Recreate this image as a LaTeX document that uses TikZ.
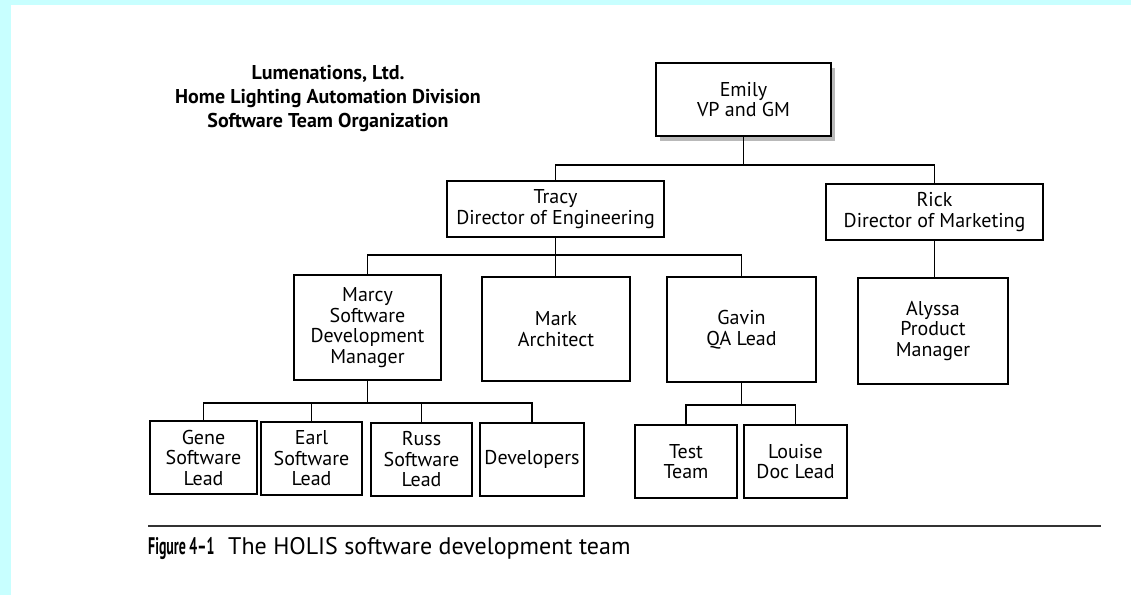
\documentclass[tikz,border=0pt]{standalone}
\usepackage{fontspec}
\setmainfont{PT Sans}
\usetikzlibrary{shadows}
\definecolor{bgcyan}{RGB}{200,255,255}
\tikzset{
  staff/.style={draw, line width=1.3pt, align=center, inner sep=0pt, font=\fontsize{20}{20.5}\selectfont},
  boss/.style={staff, line width=2.6pt},
  link/.style={line width=1.3pt}
}
\begin{document}
\begin{tikzpicture}[x=1pt,y=-1pt]
\useasboundingbox (0,0) rectangle (1131,595);
\fill[bgcyan] (0,0) rectangle (1131,595);
\fill[white] (11,5) rectangle (1131,595);

\node[align=center, font=\bfseries\fontsize{20}{24}\selectfont] (title) at (328,99) {Lumenations, Ltd.\\Home Lighting Automation Division\\Software Team Organization};

\node[boss, minimum width=175, minimum height=73, fill=white,
  drop shadow={shadow xshift=4pt, shadow yshift=-5pt, fill=gray!55, opacity=1}] (emily) at (743.5,99.5) {Emily\\VP and GM};
\node[boss, minimum width=217, minimum height=56] (tracy) at (555.5,209) {Tracy\\Director of Engineering};
\node[boss, minimum width=217, minimum height=56] (rick) at (934.5,212) {Rick\\Director of Marketing};

\node[boss, minimum width=147, minimum height=105] (marcy) at (367.5,327.5) {Marcy\\Software\\Development\\Manager};
\node[staff, minimum width=148, minimum height=104] (mark) at (556,329) {Mark\\Architect};
\node[staff, minimum width=149, minimum height=105] (gavin) at (741.5,329.5) {Gavin\\QA Lead};
\node[boss, minimum width=150, minimum height=106] (alyssa) at (933,331) {Alyssa\\Product\\Manager};

\node[staff, minimum width=107, minimum height=73] (gene) at (203.5,457.5) {Gene\\Software\\Lead};
\node[staff, minimum width=101, minimum height=73] (earl) at (311.5,458.5) {Earl\\Software\\Lead};
\node[staff, minimum width=101, minimum height=73] (russ) at (421.5,459.5) {Russ\\Software\\Lead};
\node[staff, minimum width=104, minimum height=73] (devs) at (532,459.5) {Developers};
\node[staff, minimum width=102, minimum height=73] (test) at (686,461.5) {Test\\Team};
\node[staff, minimum width=103, minimum height=73] (louise) at (795.5,461.5) {Louise\\Doc Lead};

% connectors
\coordinate (busA) at (743.5,165);
\coordinate (busB) at (555.5,255);
\coordinate (busC) at (367.5,403);
\coordinate (busD) at (741.5,405);
\draw[link] (emily.south) -- (busA);
\draw[link] (tracy.north) |- (busA) -| (rick.north);
\draw[link] (tracy.south) -- (tracy.south |- mark.north);
\draw[link] (marcy.north) |- (busB) -| (gavin.north);
\draw[link] (rick.south) -- (rick.south |- alyssa.north);
\draw[link] (marcy.south) -- (busC);
\draw[link] (gene.north) |- (busC) -| (devs.north);
\draw[link] (earl.north) -- (earl.north |- busC);
\draw[link] (russ.north) -- (russ.north |- busC);
\draw[link] (gavin.south) -- (busD);
\draw[link] (test.north) |- (busD) -| (louise.north);

% caption
\coordinate (ruleL) at (148,526);
\coordinate (ruleR) at (1101,526);
\draw[line width=2pt, black!80] (ruleL) -- (ruleR);
\node[anchor=base west, font=\bfseries\fontsize{24}{26}\selectfont, inner sep=0pt] (fig) at (148,554) {\scalebox{0.58}[1]{Figure 4--1}};
\node[anchor=base west, font=\fontsize{24}{26}\selectfont, inner sep=0pt] (cap) at (228,554) {The HOLIS software development team};
\end{tikzpicture}
\end{document}
